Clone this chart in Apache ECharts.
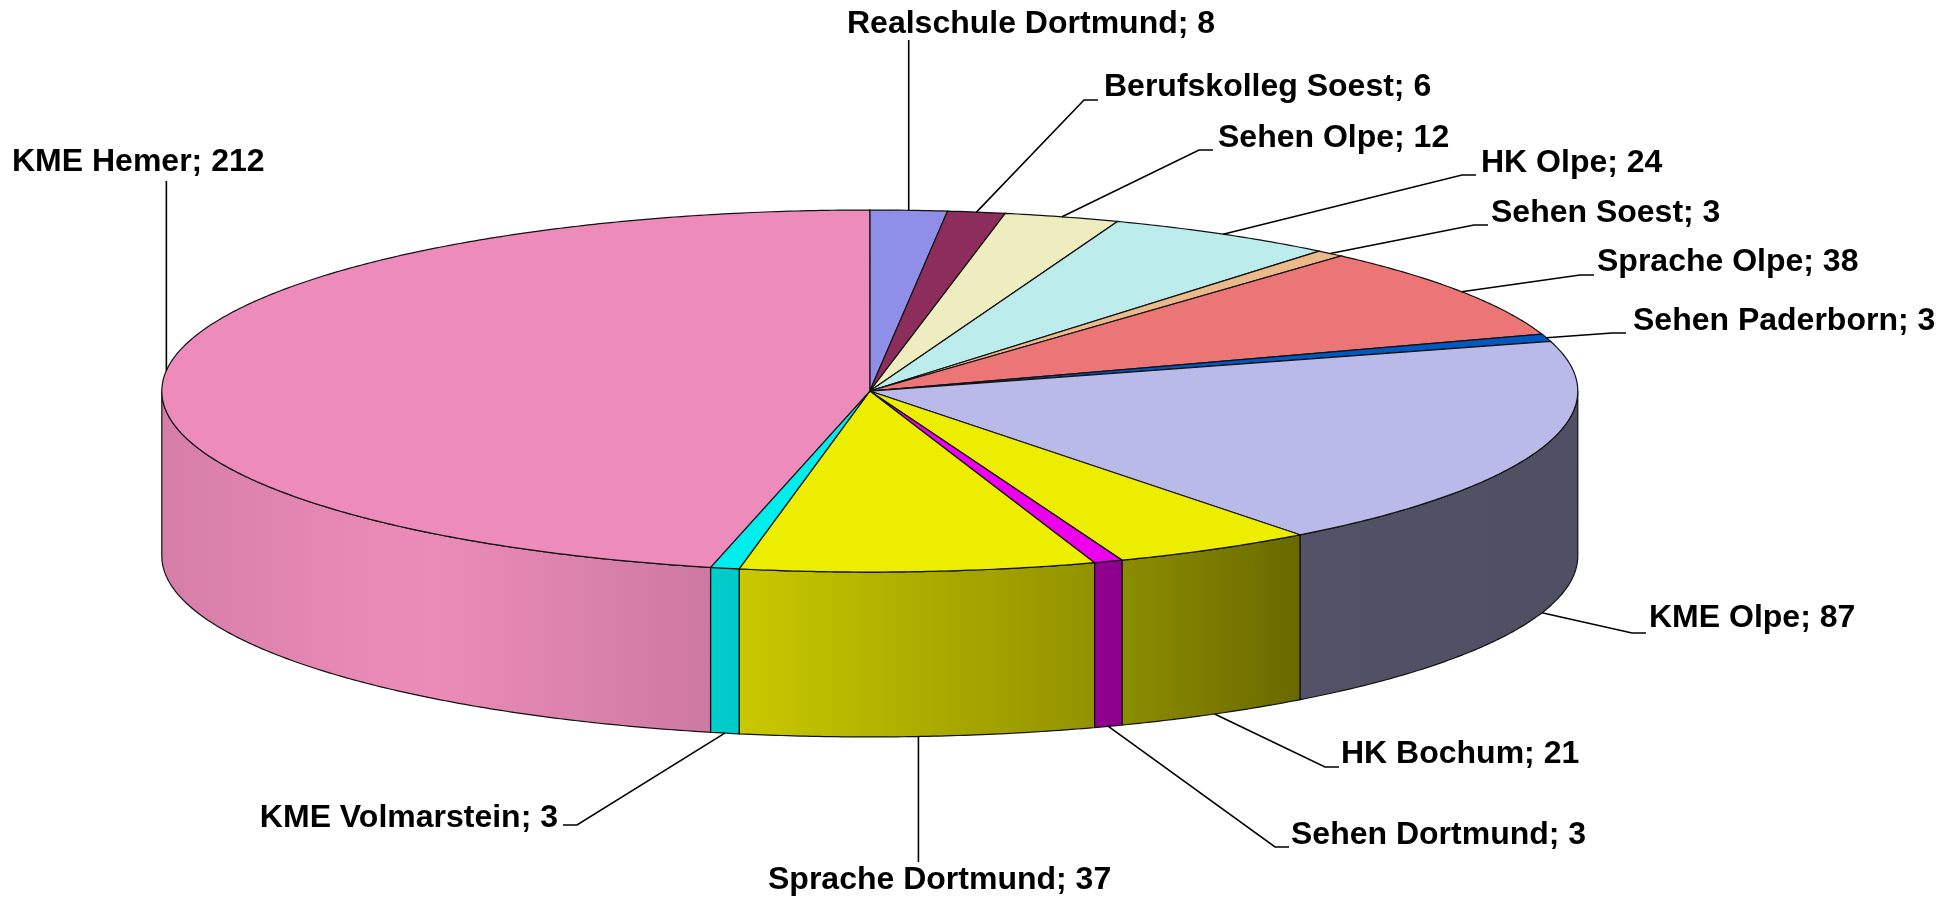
<!DOCTYPE html>
<html>
<head>
<meta charset="utf-8">
<style>
html, body { margin: 0; padding: 0; background: #fff; }
#chart { width: 1959px; height: 901px; }
</style>
<script src="https://cdn.jsdelivr.net/npm/echarts@6/dist/echarts.min.js"></script>
</head>
<body>
<div id="chart"></div>
<script>
// Schulen und Anzahl (im Uhrzeigersinn ab 12 Uhr)
var schools = ['Realschule Dortmund', 'Berufskolleg Soest', 'Sehen Olpe', 'HK Olpe', 'Sehen Soest',
    'Sprache Olpe', 'Sehen Paderborn', 'KME Olpe', 'HK Bochum', 'Sehen Dortmund',
    'Sprache Dortmund', 'KME Volmarstein', 'KME Hemer'];
var counts = [8, 6, 12, 24, 3, 38, 3, 87, 21, 3, 37, 3, 212];

// Farben der Segmente
var sliceColors = ['#8f8fe9', '#8c2d5b', '#ededbf', '#bcecec', '#ebb98a', '#ec7676', '#0058c0',
    '#babaea', '#eded00', '#ed00ed', '#eded00', '#00eded', '#ed8cba'];

// Beschriftung: Knickpunkt der Linie (lx, ly), kurzer Strich (tick), Text (tx, ty)
var labelLayout = [
    {lx: null, ly: 40,  tick: 0,   tx: 847,  ty: 24,  align: 'left'},
    {lx: 1084, ly: 100, tick: 14,  tx: 1104, ty: 87,  align: 'left'},
    {lx: 1199, ly: 150, tick: 14,  tx: 1218, ty: 138, align: 'left'},
    {lx: 1462, ly: 175, tick: 14,  tx: 1481, ty: 163, align: 'left'},
    {lx: 1474, ly: 225, tick: 14,  tx: 1491, ty: 213, align: 'left'},
    {lx: 1580, ly: 275, tick: 14,  tx: 1597, ty: 262, align: 'left'},
    {lx: 1612, ly: 333, tick: 14,  tx: 1633, ty: 321, align: 'left'},
    {lx: 1632, ly: 633, tick: 14,  tx: 1649, ty: 618, align: 'left'},
    {lx: 1325, ly: 767, tick: 14,  tx: 1341, ty: 754, align: 'left'},
    {lx: 1275, ly: 847, tick: 14,  tx: 1291, ty: 835, align: 'left'},
    {lx: null, ly: 862, tick: 0,   tx: 768,  ty: 880, align: 'left'},
    {lx: 577,  ly: 825, tick: -14, tx: 558,  ty: 818, align: 'right'},
    {lx: null, ly: 181, tick: 0,   tx: 12,   ty: 162, align: 'left'}
];

var total = counts.reduce(function (a, b) { return a + b; }, 0);
var startAngles = [];
var acc = 0;
counts.forEach(function (v) { startAngles.push(acc / total * 360); acc += v; });

// Helligkeit der Mantelfläche abhängig von der horizontalen Lage
var shadeStops = [[0, 0.9], [0.18, 1.0], [0.395, 0.86], [0.664, 0.61], [0.806, 0.44], [1, 0.43]];
function shadeAt(u) {
    for (var k = 1; k < shadeStops.length; k++) {
        if (u <= shadeStops[k][0]) {
            var p = shadeStops[k - 1], q = shadeStops[k];
            var t = (u - p[0]) / (q[0] - p[0]);
            return p[1] + (q[1] - p[1]) * t;
        }
    }
    return shadeStops[shadeStops.length - 1][1];
}
function darken(hex, f) {
    var r = parseInt(hex.substr(1, 2), 16), g = parseInt(hex.substr(3, 2), 16), b = parseInt(hex.substr(5, 2), 16);
    return 'rgb(' + Math.round(r * f) + ',' + Math.round(g * f) + ',' + Math.round(b * f) + ')';
}

function renderSlice(params, api) {
    var i = params.dataIndex;
    var W = api.getWidth(), H = api.getHeight();
    var cx = W * 0.444, cy = H * 0.434, rx = W * 0.3614, ry = H * 0.2009, depth = H * 0.183;
    var a0 = startAngles[i];
    var a1 = a0 + api.value(0) / total * 360;
    var color = sliceColors[i];

    function pt(deg, dy) {
        var r = deg * Math.PI / 180;
        return [cx + rx * Math.sin(r), cy - ry * Math.cos(r) + dy];
    }
    function arc(s, e, dy) {
        var pts = [];
        var n = Math.max(2, Math.ceil(Math.abs(e - s) / 0.5));
        for (var k = 0; k <= n; k++) pts.push(pt(s + (e - s) * k / n, dy));
        return pts;
    }

    var children = [];

    // Mantel (nur vordere Hälfte sichtbar)
    var s = Math.max(a0, 90), e = Math.min(a1, 270);
    if (s < e) {
        var sidePts = arc(s, e, 0).concat(arc(e, s, depth));
        var xa = pt(e, 0)[0], xb = pt(s, 0)[0];
        var stops = [];
        for (var k = 0; k <= 8; k++) {
            var x = xa + (xb - xa) * k / 8;
            var u = (x - (cx - rx)) / (2 * rx);
            stops.push({offset: k / 8, color: darken(color, shadeAt(u))});
        }
        children.push({
            type: 'polygon',
            z2: 1,
            shape: {points: sidePts},
            style: {
                fill: new echarts.graphic.LinearGradient(0, 0, 1, 0, stops),
                stroke: '#111',
                lineWidth: 1.2
            }
        });
    }

    // Deckfläche
    var topPts = [[cx, cy]].concat(arc(a0, a1, 0));
    children.push({
        type: 'polygon',
        z2: 2,
        shape: {points: topPts},
        style: {fill: color, stroke: '#111', lineWidth: 1.2}
    });

    // Beschriftung mit Führungslinie
    var mid = (a0 + a1) / 2;
    var anchor = (mid > 90 && mid < 270) ? pt(mid, depth) : pt(mid, 0);
    var lay = labelLayout[i];
    var lx = lay.lx === null ? anchor[0] : lay.lx;
    var linePts = [anchor, [lx, lay.ly]];
    if (lay.tick) linePts.push([lx + lay.tick, lay.ly]);
    children.push({
        type: 'polyline',
        z2: 5,
        shape: {points: linePts},
        style: {stroke: '#000', lineWidth: 1.6, fill: null}
    });
    children.push({
        type: 'text',
        z2: 6,
        style: {
            text: schools[i] + '; ' + counts[i],
            x: lay.tx,
            y: lay.ty,
            fill: '#000',
            font: 'bold 32px "Liberation Sans", Arial, sans-serif',
            align: lay.align,
            verticalAlign: 'middle'
        }
    });

    return {type: 'group', children: children};
}

var myChart = echarts.init(document.getElementById('chart'));

myChart.setOption({
    backgroundColor: '#ffffff',
    animation: false,
    series: [
        {
            type: 'custom',
            coordinateSystem: 'none',
            renderItem: renderSlice,
            data: counts.map(function (v, i) { return {name: schools[i], value: v}; })
        }
    ]
});
</script>
</body>
</html>
